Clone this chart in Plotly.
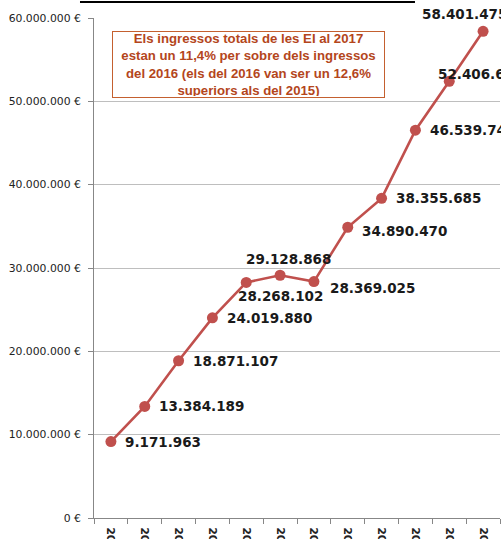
import plotly.graph_objects as go

years = ["2006", "2007", "2008", "2009", "2010", "2011", "2012", "2013", "2014", "2015", "2016", "2017"]
ingressos = [9171963, 13384189, 18871107, 24019880, 28268102, 29128868,
             28369025, 34890470, 38355685, 46539745, 52406611, 58401475]
y_ticks = [0, 10000000, 20000000, 30000000, 40000000, 50000000, 60000000]
note_lines = [
    "Els ingressos totals de les EI al 2017",
    "estan un 11,4% per sobre dels ingressos",
    "del 2016 (els del 2016 van ser un 12,6%",
    "superiors als del 2015)",
]

# label placement per point: (xanchor, xshift, yshift)
LABEL_POS = [
    ("left", 12, 0), ("left", 12, 0), ("left", 12, 0), ("left", 13, 0),
    ("left", -10, -14), ("center", 8, 16), ("left", 14, -6), ("left", 12, -4),
    ("left", 12, 0), ("left", 13, 0), ("left", -13, 7), ("center", -19, 17),
]

LINE_RED = "#C0504D"
GRID = "#BEBEBE"
AXIS = "#878787"


def fmt(v):
    return f"{v:,}".replace(",", ".")


fig = go.Figure()
fig.add_trace(
    go.Scatter(
        x=years, y=ingressos, mode="lines+markers",
        line=dict(color=LINE_RED, width=2.6),
        marker=dict(color=LINE_RED, size=11),
        hoverinfo="skip",
    )
)

# data labels (x given as category index so "2006" isn't read as position 2006)
for i, (val, (anchor, dx, dy)) in enumerate(zip(ingressos, LABEL_POS)):
    fig.add_annotation(
        x=i, y=val, text=fmt(val), showarrow=False,
        xanchor=anchor, yanchor="middle", xshift=dx, yshift=dy,
        font=dict(family="DejaVu Sans", size=13.5, color="#1a1a1a", weight="bold"),
    )

# note box
fig.add_annotation(
    xref="paper", yref="paper", x=0.3805, y=0.907,
    xanchor="center", yanchor="middle",
    text="<br>".join(note_lines), showarrow=False, align="center",
    font=dict(family="Liberation Sans", size=13.2, color="#B4461C", weight="bold"),
    bordercolor="#C4602F", borderwidth=1, borderpad=1,
    bgcolor="white", width=269, height=63,
)

# top rule (remnant of page header)
fig.add_shape(
    type="line", xref="paper", yref="paper",
    x0=-0.0345, x1=0.7906, y0=1.032, y1=1.032,
    line=dict(color="black", width=2),
)

fig.update_layout(
    width=501, height=539,
    margin=dict(l=94, r=1, t=18, b=21),
    plot_bgcolor="white", paper_bgcolor="white",
    showlegend=False,
    font=dict(family="DejaVu Sans", color="#222222"),
)
fig.update_xaxes(
    type="category", range=[-0.5, len(years) - 0.5],
    tickson="boundaries", ticks="outside", ticklen=5, ticklabelstandoff=6,
    tickcolor=AXIS, showline=True, linecolor=AXIS, linewidth=1,
    showgrid=False, tickangle=90, automargin=False,
    tickfont=dict(family="DejaVu Sans", size=11, color="#222222", weight="bold"),
)
fig.update_yaxes(
    range=[0, 60000000], tickvals=y_ticks,
    ticktext=[fmt(v) + " €" for v in y_ticks],
    ticks="outside", ticklen=5, tickcolor=AXIS, ticklabelstandoff=5,
    showline=True, linecolor=AXIS, linewidth=1,
    showgrid=True, gridcolor=GRID, gridwidth=1, zeroline=False,
    automargin=False,
    tickfont=dict(family="DejaVu Sans", size=10.8, color="#222222"),
)

# drop the default page margin so the figure sits at the window's corner
fig.write_html(
    "out.html",
    config={"displayModeBar": False},
    post_script="document.body.style.margin='0';document.body.style.overflow='hidden';",
)
